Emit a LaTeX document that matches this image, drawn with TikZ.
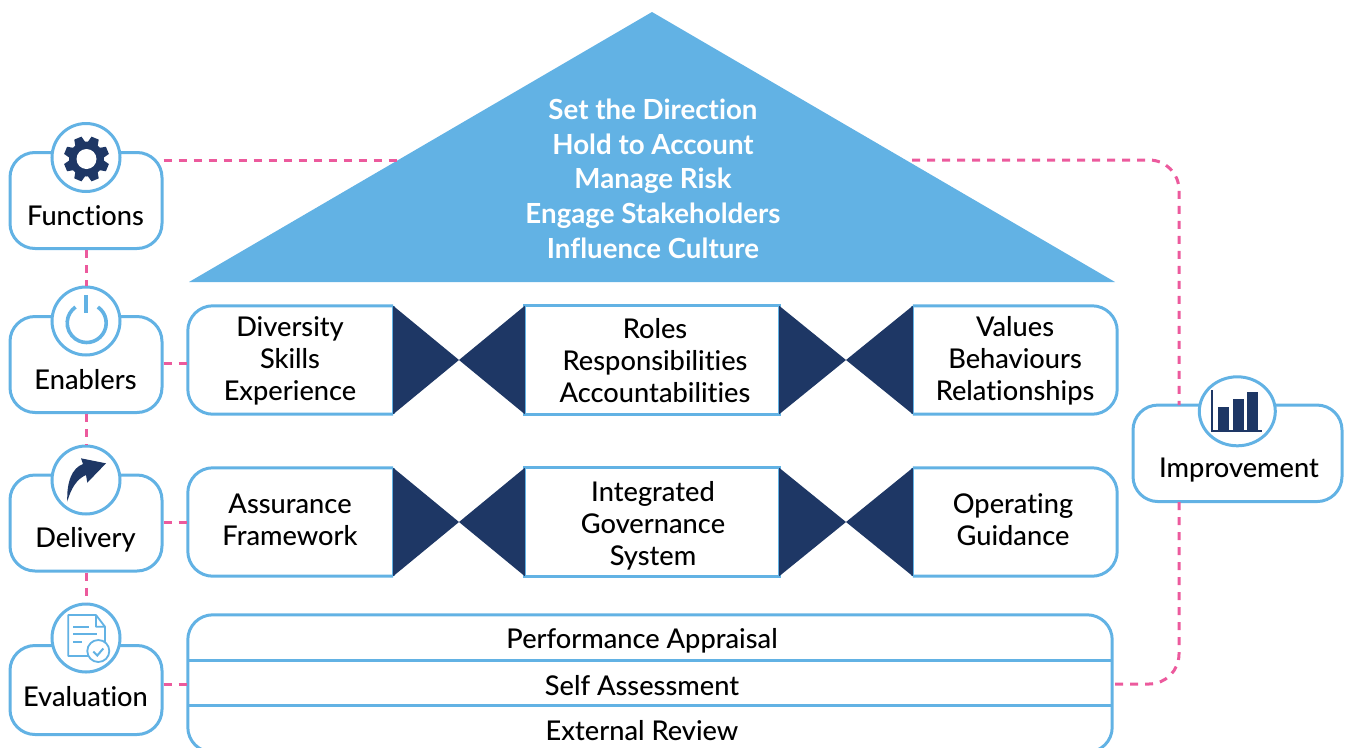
\documentclass[tikz,border=0pt]{standalone}
\usepackage{fontspec}
\setmainfont{Lato}[UprightFont=* Medium,BoldFont=* Bold,Ligatures=NoCommon]
\usetikzlibrary{calc,shapes.geometric}
\definecolor{sky}{HTML}{62B2E4}
\definecolor{navy}{HTML}{1E3765}
\definecolor{pinkd}{HTML}{EC5A9D}
\tikzset{
 bluel/.style={draw=sky,line width=3pt},
 sidebox/.style={bluel,rounded corners=25pt,minimum width=152pt,fill=white,inner sep=0pt},
 badge/.style={bluel,circle,minimum size=68pt,fill=white,inner sep=0pt},
 lab/.style={font=\fontsize{27.2}{32}\selectfont,align=center,inner sep=0pt,text=black},
 dashl/.style={draw=pinkd,line width=3pt,dash pattern=on 8pt off 7pt},
 bow/.style={fill=navy,draw=none},
 anchorbox/.style={inner sep=0pt,minimum height=108pt},
}
\begin{document}
\begin{tikzpicture}[x=1pt,y=-1pt]
\useasboundingbox (0,0) rectangle (1348,747);
\clip (0,0) rectangle (1348,747);
% roof
\coordinate (apex) at (652,12);
\coordinate (roofL) at (189,282);
\coordinate (roofR) at (1115,282);
\fill[sky] (apex) -- (roofR) -- (roofL) -- cycle;
\node[lab,text=white,font=\fontsize{27.7}{34.7}\selectfont\bfseries] (roof) at (653,178.7) {Set the Direction\\Hold to Account\\Manage Risk\\Engage Stakeholders\\Influence Culture};
\coordinate (roofA) at (397,160);
\coordinate (roofB) at (912,160);
% side boxes
\node[sidebox,minimum height=96pt] (fn) at (86,200.5) {};
\node[sidebox,minimum height=96pt] (en) at (86,364.5) {};
\node[sidebox,minimum height=96pt] (de) at (86,523) {};
\node[sidebox,minimum height=89pt] (ev) at (86,690) {};
\node[badge] (fnc) at (86,157.5) {};
\node[badge] (enc) at (86,321) {};
\node[badge] (dec) at (86,480) {};
\node[badge] (evc) at (86,638) {};
\node[lab] (fnt) at (85.5,216) {Functions};
\node[lab] (ent) at (85.5,380) {Enablers};
\node[lab] (det) at (85.5,540) {Delivery};
\node[lab] (evt) at (85.5,696.5) {Evaluation};
% improvement
\node[sidebox,minimum width=209pt,minimum height=96.5pt] (im) at (1237.5,453.3) {};
\node[bluel,ellipse,minimum width=76pt,minimum height=69pt,fill=white,inner sep=0pt] (imc) at (1237.3,411.3) {};
\node[lab] (imt) at (1239,470) {Improvement};
\coordinate (imA) at (1179,405);
\coordinate (imB) at (1179,502);
% rows
\foreach \nm/\cy in {r/360,s/522}{
 \node[anchorbox,minimum width=205pt] (\nm a) at (290.5,\cy) {};
 \node[anchorbox,minimum width=254pt] (\nm b) at (652,\cy) {};
 \node[anchorbox,minimum width=204pt] (\nm c) at (1015,\cy) {};
 \draw[bluel,rounded corners=25pt] (\nm a.south east) -- (\nm a.south west) -- (\nm a.north west) -- (\nm a.north east);
 \draw[bluel] (\nm a.north east) -- (\nm a.south east);
 \draw[bluel] (\nm b.north west) rectangle (\nm b.south east);
 \draw[bluel,rounded corners=25pt] (\nm c.north west) -- (\nm c.north east) -- (\nm c.south east) -- (\nm c.south west);
 \draw[bluel] (\nm c.north west) -- (\nm c.south west);
 \coordinate (\nm m1) at ($(\nm a.east)!.5!(\nm b.west)$);
 \coordinate (\nm m2) at ($(\nm b.east)!.5!(\nm c.west)$);
 \fill[bow] (\nm a.north east) -- (\nm m1) -- (\nm a.south east) -- cycle;
 \fill[bow] (\nm b.north west) -- (\nm m1) -- (\nm b.south west) -- cycle;
 \fill[bow] (\nm b.north east) -- (\nm m2) -- (\nm b.south east) -- cycle;
 \fill[bow] (\nm c.north west) -- (\nm m2) -- (\nm c.south west) -- cycle;
}
\node[lab] (t1) at (290,360.5) {Diversity\\Skills\\Experience};
\node[lab] (t2) at (655,360.5) {Roles\\Responsibilities\\Accountabilities};
\node[lab] (t3) at (1015,361) {Values\\Behaviours\\Relationships};
\node[lab] (t4) at (290,520) {Assurance\\Framework};
\node[lab] (t5) at (653,525.5) {Integrated\\Governance\\System};
\node[lab] (t6) at (1013,520) {Operating\\Guidance};
% table
\node[inner sep=0pt,minimum width=924pt,minimum height=137pt] (tb) at (650,683.5) {};
\draw[bluel,rounded corners=25pt] (tb.north west) rectangle (tb.south east);
\coordinate (tl1) at (188,660); \coordinate (tr1) at (1112,660);
\coordinate (tl2) at (188,705); \coordinate (tr2) at (1112,705);
\draw[bluel] (tl1) -- (tr1);
\draw[bluel] (tl2) -- (tr2);
\node[lab] (p1) at (642,641) {Performance Appraisal};
\node[lab] (p2) at (642,685.5) {Self Assessment};
\node[lab] (p3) at (642,730.5) {External Review};
% connectors
\draw[dashl] (fn.east |- roofA) -- (roofA);
\draw[dashl,rounded corners=30pt] (roofB) -| (imA);
\draw[dashl,rounded corners=30pt] (imB) |- (tb.east |- 0,684);
\draw[dashl] (fn.south) -- (enc.north);
\draw[dashl] (en.south) -- (dec.north);
\draw[dashl] (de.south) -- (evc.north);
\draw[dashl] (en.east |- 0,363) -- (ra.west |- 0,363);
\draw[dashl] (de.east |- 0,522) -- (sa.west |- 0,522);
\draw[dashl] (ev.east |- 0,684) -- (tb.west |- 0,684);
% gear
\begin{scope}[shift={(86.5,159)}]
 \fill[navy] (0,0) circle (17.5);
 \foreach \k in {0,...,7}{
  \fill[navy,rotate=22.5+45*\k] (15,-5.6) -- (22.6,-3.9) -- (22.6,3.9) -- (15,5.6) -- cycle;
 }
 \fill[white] (0,0) circle (10);
\end{scope}
% power
\draw[sky,line width=3.6pt] (86.7,323) ++(-55:19.5) arc[start angle=-55,end angle=235,radius=19.5];
\draw[sky,line width=3.6pt] (86,295) -- (86,313);
% arrow
\fill[navy] (67.3,501.7) .. controls (66.5,482) and (72,468) .. (83,464) -- (81,458.3) -- (106,463.3) -- (87.3,482.7) -- (86,475) .. controls (77,479) and (71,488) .. cycle;
% document
\draw[sky,line width=1.8pt,line join=round] (96,615) -- (68.3,615) -- (68.3,656) -- (105,656) -- (105,626.7) -- (96,615) -- (96,626.7) -- (105,626.7);
\draw[sky,line width=1.8pt] (73.3,627.3) -- (89.3,627.3) (73.3,634.3) -- (96.7,634.3) (73.3,641.7) -- (82.3,641.7);
\draw[sky,line width=1.8pt,fill=white] (98.3,651) circle (11);
\draw[sky,line width=2pt] (93.3,651.5) -- (97.3,655.5) -- (103.3,648.5);
% bars
\draw[navy,line width=2pt] (1211.7,390) -- (1211.7,430.7) -- (1262.3,430.7);
\fill[navy] (1218.3,406.7) rectangle (1229,430.7);
\fill[navy] (1233,399) rectangle (1244,430.7);
\fill[navy] (1247,392) rectangle (1258,430.7);
\end{tikzpicture}
\end{document}
